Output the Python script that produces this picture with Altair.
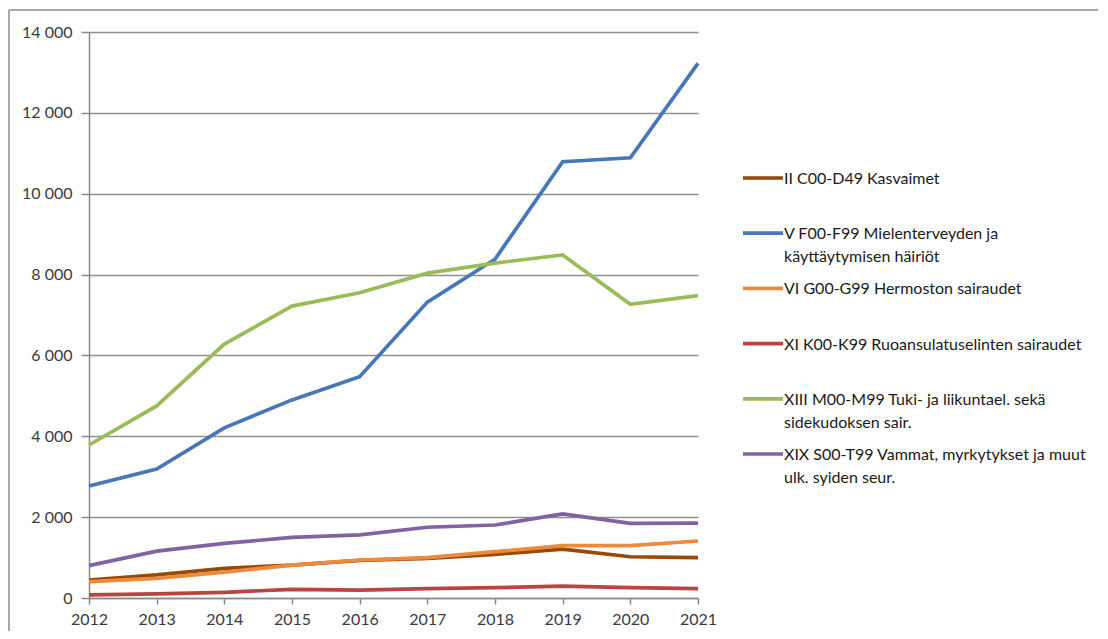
import altair as alt
import pandas as pd

years = list(range(2012, 2022))

series = [
    "II C00-D49 Kasvaimet",
    "V F00-F99 Mielenterveyden ja käyttäytymisen häiriöt",
    "VI G00-G99 Hermoston sairaudet",
    "XI K00-K99 Ruoansulatuselinten sairaudet",
    "XIII M00-M99 Tuki- ja liikuntael. sekä sidekudoksen sair.",
    "XIX S00-T99 Vammat, myrkytykset ja muut ulk. syiden seur.",
]
legend_labels = [
    "II C00-D49 Kasvaimet",
    "V F00-F99 Mielenterveyden ja|käyttäytymisen häiriöt",
    "VI G00-G99 Hermoston sairaudet",
    "XI K00-K99 Ruoansulatuselinten sairaudet",
    "XIII M00-M99 Tuki- ja liikuntael. sekä|sidekudoksen sair.",
    "XIX S00-T99 Vammat, myrkytykset ja muut|ulk. syiden seur.",
]

ii_kasvaimet = [445, 570, 735, 815, 930, 980, 1080, 1210, 1020, 1000]
v_mielenterveys = [2770, 3190, 4210, 4900, 5475, 7320, 8380, 10790, 10890, 13225]
vi_hermosto = [405, 485, 640, 815, 940, 1000, 1145, 1295, 1295, 1410]
xi_ruoansulatus = [75, 100, 140, 215, 195, 230, 255, 295, 255, 230]
xiii_tuki = [3785, 4750, 6280, 7220, 7550, 8035, 8285, 8485, 7265, 7480]
xix_vammat = [800, 1160, 1350, 1500, 1560, 1750, 1805, 2080, 1845, 1850]

values = [ii_kasvaimet, v_mielenterveys, vi_hermosto, xi_ruoansulatus, xiii_tuki, xix_vammat]
colors = ["#984807", "#4677B6", "#EE8A3E", "#B94442", "#9BBB59", "#8064A2"]
y_ticks = [0, 2000, 4000, 6000, 8000, 10000, 12000, 14000]

rows = []
for i, (name, vals) in enumerate(zip(series, values)):
    for yr, v in zip(years, vals):
        rows.append({"series": name, "year": yr, "value": v, "idx": i})
df = pd.DataFrame(rows)

leg_df = pd.DataFrame({"series": series, "label": legend_labels, "rank": list(range(len(series)))})

color_scale = alt.Scale(domain=series, range=colors)

lines = alt.Chart(df).mark_line(strokeWidth=3.7).encode(
    x=alt.X("year:Q",
            scale=alt.Scale(domain=[2012, 2021], nice=False, zero=False),
            axis=alt.Axis(values=years, format="d", title=None, grid=False,
                          tickSize=6, labelPadding=7, labelFlush=False)),
    y=alt.Y("value:Q",
            scale=alt.Scale(domain=[0, 14000], nice=False),
            axis=alt.Axis(values=y_ticks, title=None, grid=True, tickSize=8, labelPadding=9,
                          labelExpr="replace(format(datum.value, ','), ',', ' ')")),
    color=alt.Color("series:N", scale=color_scale, legend=None),
    detail="idx:O",
)

leg_y = alt.Y("rank:Q", scale=alt.Scale(domain=[0, 5], range=[146, 422]), axis=None)

leg_rules = alt.Chart(leg_df).mark_rule(strokeWidth=3.7).encode(
    x=alt.value(654), x2=alt.value(694),
    y=leg_y,
    color=alt.Color("series:N", scale=color_scale, legend=None),
)

leg_text = alt.Chart(leg_df).mark_text(
    align="left", baseline="top", dy=-7, lineBreak="|", lineHeight=23,
    font="Lato", fontSize=16, color="#1a1a1a",
).encode(
    x=alt.value(695),
    y=leg_y,
    text="label:N",
)

border_data = alt.Data(values=[{"a": 1}])
border_top = alt.Chart(border_data).mark_rule(color="#8c8c8c", strokeWidth=1.5).encode(
    x=alt.value(-80), x2=alt.value(1030), y=alt.value(-22)
)
border_left = alt.Chart(border_data).mark_rule(color="#8c8c8c", strokeWidth=1.5).encode(
    x=alt.value(-80), y=alt.value(-22), y2=alt.value(620)
)

chart = alt.layer(lines, leg_rules, leg_text, border_top, border_left).resolve_scale(
    y="independent"
).properties(
    width=609, height=566,
    autosize=alt.AutoSizeParams(type="none"),
    padding={"left": 81, "top": 24, "right": 400, "bottom": 33},
).configure_view(stroke=None).configure_axis(
    labelFont="Lato", labelFontSize=16, labelColor="#3a3a3a",
    domainColor="#8a8a8a", domainWidth=1.5, tickColor="#8a8a8a", tickWidth=1.5,
    gridColor="#8f8f8f", gridWidth=1.5,
)

chart.save("out.html", embed_options={"renderer": "svg", "actions": False})
